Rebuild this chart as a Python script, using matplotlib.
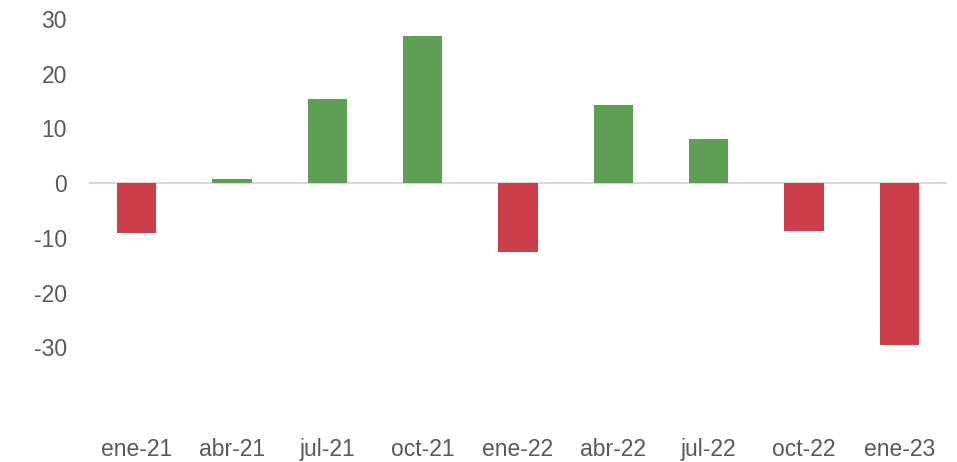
import matplotlib.pyplot as plt

# data
categories = ["ene-21", "abr-21", "jul-21", "oct-21", "ene-22",
              "abr-22", "jul-22", "oct-22", "ene-23"]
values = [-9.1, 0.7, 15.4, 26.9, -12.6, 14.3, 8.0, -8.7, -29.6]
yticks = [-30, -20, -10, 0, 10, 20, 30]

green = "#5F9F55"
red = "#CC3F4A"
text_color = "#595959"

plt.rcParams['font.family'] = ['Liberation Sans', 'DejaVu Sans']

fig = plt.figure(figsize=(9.57, 4.62), dpi=100)
ax = fig.add_axes([0.093, 0.13, 0.8966, 0.829])

colors = [green if v >= 0 else red for v in values]
x = range(len(categories))
ax.bar(x, values, width=0.41, color=colors, zorder=2)

# zero line
ax.axhline(0, color="#D9D9D9", linewidth=1.5, zorder=1)

ax.set_xlim(-0.5, len(categories) - 0.5)
ax.set_ylim(-40, 30)
ax.set_yticks(yticks)
ax.set_yticklabels([str(t) for t in yticks])
ax.set_xticks(list(x))
ax.set_xticklabels(categories)

ax.tick_params(axis="y", length=0, pad=16, labelsize=16.5, labelcolor=text_color)
ax.tick_params(axis="x", length=0, pad=26, labelsize=16.5, labelcolor=text_color)

for s in ax.spines.values():
    s.set_visible(False)

fig.savefig("out.png", dpi=100)
